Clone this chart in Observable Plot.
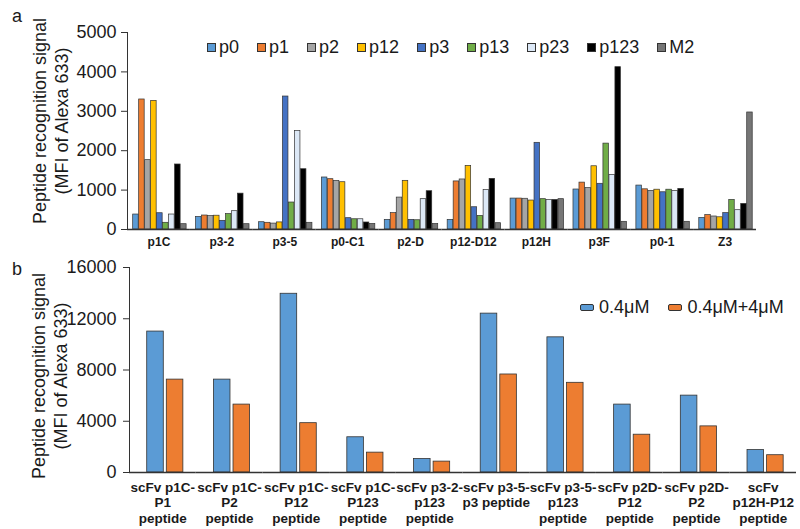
<!DOCTYPE html>
<html><head><meta charset="utf-8">
<script src="https://cdn.jsdelivr.net/npm/d3@7"></script>
<script src="https://cdn.jsdelivr.net/npm/@observablehq/plot@0.6"></script>
<style>
body{margin:0;background:#fff;}
#wrap{position:relative;width:800px;height:529px;font-family:"Liberation Sans",Arial,sans-serif;color:#1a1a1a;overflow:hidden;background:#fff}
#wrap svg{display:block}
.tag{position:absolute;font-size:18px;line-height:20px}
.leg{position:absolute;display:flex;align-items:center;font-size:18px;line-height:20px;white-space:nowrap}
.leg .it{display:flex;align-items:center}
.swA{display:inline-block;width:7px;height:7px;border:1px solid #333;margin-right:3px}
.swB{display:inline-block;width:12px;height:5px;border:1px solid #333;border-radius:2px;margin-right:5px}
</style></head><body><div id="wrap"></div>
<script>
// ---------- Panel a data ----------
const groupsA = ["p1C","p3-2","p3-5","p0-C1","p2-D","p12-D12","p12H","p3F","p0-1","Z3"];
const seriesA = ["p0","p1","p2","p12","p3","p13","p23","p123","M2"];
const colorsA = ["#5B9BD5","#ED7D31","#A5A5A5","#FFC000","#4472C4","#70AD47","#DCE8F6","#000000","#767676"];
const valP0   = [380, 320, 185, 1320, 245, 245, 785, 1015, 1115, 295];
const valP1   = [3300, 355, 170, 1277, 415, 1220, 785, 1190, 1020, 365];
const valP2   = [1760, 340, 150, 1234, 810, 1270, 780, 1050, 980, 330];
const valP12  = [3265, 350, 180, 1200, 1235, 1615, 735, 1605, 1010, 310];
const valP3   = [413, 220, 3375, 287, 245, 565, 2200, 1160, 945, 415];
const valP13  = [170, 390, 685, 260, 235, 345, 770, 2180, 1010, 750];
const valP23  = [380, 465, 2500, 260, 770, 1000, 750, 1385, 980, 490];
const valP123 = [1650, 910, 1530, 178, 972, 1285, 750, 4120, 1030, 650];
const valM2   = [135, 135, 170, 142, 140, 160, 770, 195, 195, 2970];
const ticksA  = [0, 1000, 2000, 3000, 4000, 5000];

// ---------- Panel b data ----------
const groupsB = ["scFv p1C-\nP1\npeptide","scFv p1C-\nP2\npeptide","scFv p1C-\nP12\npeptide","scFv p1C-\nP123\npeptide","scFv p3-2-\np123\npeptide","scFv p3-5-\np3 peptide","scFv p3-5-\np123\npeptide","scFv p2D-\nP12\npeptide","scFv p2D-\nP2\npeptide","scFv\np12H-P12\npeptide"];
const seriesB = ["0.4μM","0.4μM+4μM"];
const colorsB = ["#5B9BD5","#ED7D31"];
const valLow  = [11000, 7250, 13950, 2750, 1050, 12400, 10550, 5300, 6000, 1750];
const valHigh = [7250, 5300, 3850, 1550, 850, 7650, 7000, 2950, 3600, 1350];
const ticksB  = [0, 4000, 8000, 12000, 16000];

const yTitle = "Peptide recognition signal\n(MFI of Alexa 633)";

const valuesA = [valP0, valP1, valP2, valP12, valP3, valP13, valP23, valP123, valM2];
const dataA = [];
seriesA.forEach((s, i) => groupsA.forEach((g, j) => dataA.push({group: g, series: s, value: valuesA[i][j]})));
const valuesB = [valLow, valHigh];
const dataB = [];
seriesB.forEach((s, i) => groupsB.forEach((g, j) => dataB.push({group: g, series: s, value: valuesB[i][j]})));

const font = '"Liberation Sans", Arial, sans-serif';
const wrap = document.getElementById("wrap");

const chartA = Plot.plot({
  width: 800, height: 250,
  marginLeft: 127, marginRight: 44, marginTop: 32, marginBottom: 21,
  style: {fontFamily: font, fontSize: "18px", color: "#1a1a1a", background: "transparent", overflow: "visible"},
  fx: {domain: groupsA, padding: 0, round: false, label: null},
  x: {domain: seriesA, paddingInner: 0.08, paddingOuter: 0.79, align: 0.6, round: false, axis: null},
  y: {domain: [0, 5000], label: null},
  color: {domain: seriesA, range: colorsA},
  marks: [
    Plot.barY(dataA, {fx: "group", x: "series", y: "value", fill: "series", stroke: "#333", strokeWidth: 0.7}),
    Plot.ruleY([0], {stroke: "#333", strokeWidth: 1.3}),
    Plot.frame({anchor: "left", facetAnchor: "left", stroke: "#333"}),
    Plot.axisY(ticksA, {tickSize: 6, tickPadding: 5, fontSize: 18, tickFormat: "d", label: null, stroke: "#333"}),
    Plot.axisFx({anchor: "bottom", tickSize: 0, tickPadding: 8, fontSize: 12, fontWeight: "bold", label: null}),
    Plot.text([yTitle], {text: d => d, frameAnchor: "left", textAnchor: "middle", lineAnchor: "middle", rotate: -90, dx: -78, dy: -10, lineHeight: 1.22, fontSize: 18, facetAnchor: "left"})
  ]
});

const chartB = Plot.plot({
  width: 800, height: 279,
  marginLeft: 129, marginRight: 4, marginTop: 17, marginBottom: 57,
  style: {fontFamily: font, fontSize: "18px", color: "#1a1a1a", background: "transparent", overflow: "visible"},
  fx: {domain: groupsB, padding: 0, round: false, label: null},
  x: {domain: seriesB, paddingInner: 0.154, paddingOuter: 0.78, align: 0.58, round: false, axis: null},
  y: {domain: [0, 16000], label: null},
  color: {domain: seriesB, range: colorsB},
  marks: [
    Plot.barY(dataB, {fx: "group", x: "series", y: "value", fill: "series", stroke: "#333", strokeWidth: 0.8}),
    Plot.ruleY([0], {stroke: "#333", strokeWidth: 1.3}),
    Plot.frame({anchor: "left", facetAnchor: "left", stroke: "#333"}),
    Plot.axisY(ticksB, {tickSize: 6, tickPadding: 7, fontSize: 18, tickFormat: "d", label: null, stroke: "#333"}),
    Plot.axisFx({anchor: "bottom", tickSize: 0, tickPadding: 8, fontSize: 13.5, fontWeight: "bold", lineHeight: 1.15, label: null}),
    Plot.text([yTitle], {text: d => d, frameAnchor: "left", textAnchor: "middle", lineAnchor: "middle", rotate: -90, dx: -81, dy: 6, lineHeight: 1.22, fontSize: 18, facetAnchor: "left"})
  ]
});

const boxA = document.createElement("div");
boxA.style.cssText = "position:absolute;left:0;top:0;";
boxA.appendChild(chartA);
wrap.appendChild(boxA);
const boxB = document.createElement("div");
boxB.style.cssText = "position:absolute;left:0;top:250px;";
boxB.appendChild(chartB);
wrap.appendChild(boxB);

// panel tags
const tagA = document.createElement("div"); tagA.className = "tag"; tagA.textContent = "a";
tagA.style.cssText = "left:12px;top:6px;"; wrap.appendChild(tagA);
const tagB = document.createElement("div"); tagB.className = "tag"; tagB.textContent = "b";
tagB.style.cssText = "left:12px;top:259px;"; wrap.appendChild(tagB);

// legend a
const legA = document.createElement("div"); legA.className = "leg";
legA.style.cssText = "left:207px;top:37px;gap:18px;";
seriesA.forEach((s, i) => {
  const it = document.createElement("div"); it.className = "it";
  const sw = document.createElement("span"); sw.className = "swA"; sw.style.background = colorsA[i];
  const tx = document.createElement("span"); tx.textContent = s;
  it.appendChild(sw); it.appendChild(tx); legA.appendChild(it);
});
wrap.appendChild(legA);

// legend b
const legB = document.createElement("div"); legB.className = "leg";
legB.style.cssText = "left:580px;top:297px;gap:19px;";
seriesB.forEach((s, i) => {
  const it = document.createElement("div"); it.className = "it";
  const sw = document.createElement("span"); sw.className = "swB"; sw.style.background = colorsB[i];
  const tx = document.createElement("span"); tx.textContent = s;
  it.appendChild(sw); it.appendChild(tx); legB.appendChild(it);
});
wrap.appendChild(legB);
</script>
</body></html>
